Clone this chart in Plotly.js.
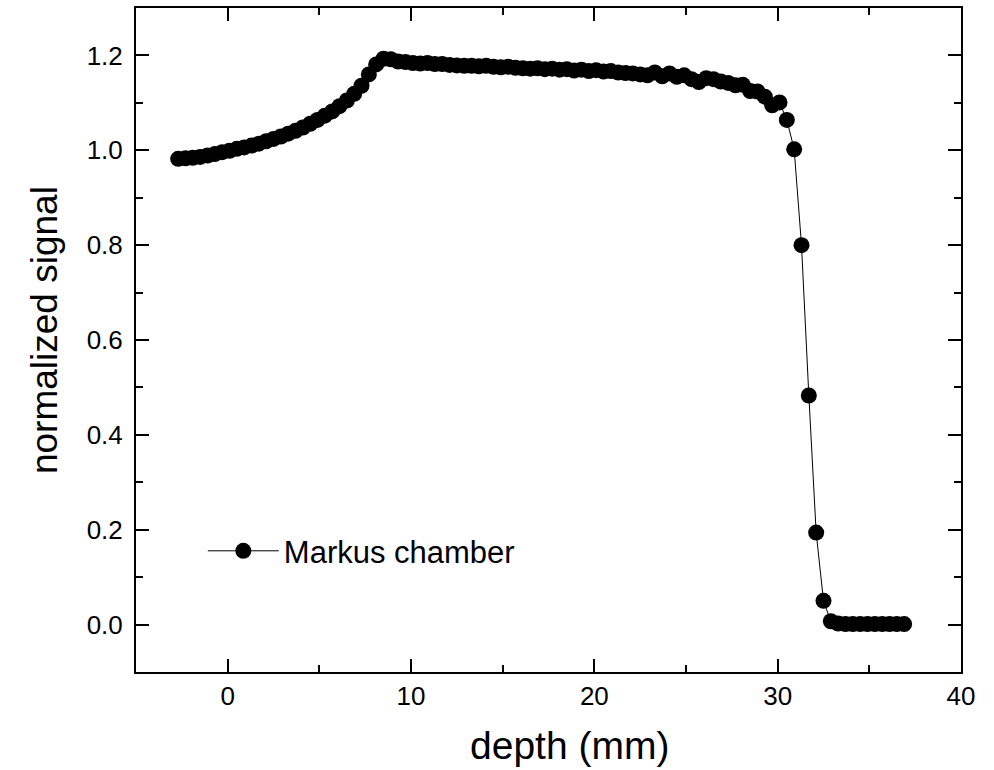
<!DOCTYPE html>
<html>
<head>
<meta charset="utf-8">
<script src="https://cdn.plot.ly/plotly-3.0.1.min.js"></script>
<style>html,body{margin:0;padding:0;background:#fff;}#chart{width:994px;height:770px;}</style>
</head>
<body>
<div id="chart"></div>
<script>
var depth = [-2.7,-2.3,-1.9,-1.5,-1.1,-0.7,-0.3,0.1,0.5,0.9,
  1.3,1.7,2.1,2.5,2.9,3.3,3.7,4.1,4.5,4.9,
  5.3,5.7,6.1,6.5,6.9,7.3,7.7,8.1,8.5,8.9,
  9.3,9.7,10.1,10.5,10.9,11.3,11.7,12.1,12.5,12.9,
  13.3,13.7,14.1,14.5,14.9,15.3,15.7,16.1,16.5,16.9,
  17.3,17.7,18.1,18.5,18.9,19.3,19.7,20.1,20.5,20.9,
  21.3,21.7,22.1,22.5,22.9,23.3,23.7,24.1,24.5,24.9,
  25.3,25.7,26.1,26.5,26.9,27.3,27.7,28.1,28.5,28.9,
  29.3,29.7,30.1,30.5,30.9,31.3,31.7,32.1,32.5,32.9,
  33.3,33.7,34.1,34.5,34.9,35.3,35.7,36.1,36.5,36.9];
var signal = [0.982,0.983,0.984,0.986,0.989,0.992,0.996,0.999,1.003,1.006,
  1.010,1.014,1.019,1.024,1.029,1.035,1.041,1.048,1.056,1.064,
  1.073,1.082,1.093,1.105,1.119,1.136,1.160,1.181,1.193,1.192,
  1.187,1.186,1.184,1.183,1.184,1.182,1.182,1.180,1.179,1.178,
  1.178,1.177,1.178,1.176,1.175,1.176,1.174,1.173,1.172,1.173,
  1.171,1.172,1.170,1.171,1.168,1.170,1.167,1.169,1.166,1.167,
  1.164,1.163,1.162,1.160,1.158,1.164,1.156,1.162,1.155,1.158,
  1.150,1.144,1.152,1.150,1.145,1.142,1.137,1.138,1.125,1.124,
  1.113,1.095,1.101,1.064,1.002,0.800,0.483,0.194,0.050,0.007,
  0.002,0.001,0.001,0.001,0.001,0.001,0.001,0.001,0.001,0.001];
var seriesName = "Markus chamber";
var xTitle = "depth (mm)";
var yTitle = "normalized signal";

var trace = {
  x: depth, y: signal, name: seriesName,
  type: "scatter", mode: "lines+markers",
  line: {color: "#000", width: 1},
  marker: {color: "#000", size: 16, symbol: "circle"}
};
var font = "Liberation Sans, Arial, sans-serif";
var layout = {
  width: 994, height: 770,
  margin: {l: 136, r: 33, t: 8, b: 98},
  paper_bgcolor: "#fff", plot_bgcolor: "#fff",
  font: {family: font, color: "#000"},
  showlegend: true,
  legend: {x: 0.081, y: 0.182, xanchor: "left", yanchor: "middle",
    font: {family: font, size: 31, color: "#000"}, bgcolor: "rgba(0,0,0,0)", itemwidth: 71},
  xaxis: {
    range: [-5, 40], dtick: 10, tick0: 0, showgrid: false, zeroline: false,
    showline: true, linecolor: "#000", linewidth: 2, mirror: "allticks",
    ticks: "inside", ticklen: 13, tickwidth: 2, tickcolor: "#000",
    minor: {dtick: 5, ticks: "inside", ticklen: 7, tickwidth: 2, tickcolor: "#000", showgrid: false},
    tickfont: {family: font, size: 26, color: "#000"}
  },
  yaxis: {
    range: [-0.1, 1.3], dtick: 0.2, tick0: 0, tickformat: ".1f", showgrid: false, zeroline: false,
    showline: true, linecolor: "#000", linewidth: 2, mirror: "allticks",
    ticks: "inside", ticklen: 13, tickwidth: 2, tickcolor: "#000",
    minor: {dtick: 0.1, ticks: "inside", ticklen: 7, tickwidth: 2, tickcolor: "#000", showgrid: false},
    tickfont: {family: font, size: 26, color: "#000"}, ticklabelstandoff: 6
  },
  annotations: [
    {text: xTitle, xref: "paper", yref: "paper", x: 0.526, y: -0.1114,
     xanchor: "center", yanchor: "middle", showarrow: false,
     font: {family: font, size: 39, color: "#000"}},
    {text: yTitle, xref: "paper", yref: "paper", x: -0.1115, y: 0.515, textangle: -90,
     xanchor: "center", yanchor: "middle", showarrow: false,
     font: {family: font, size: 37, color: "#000"}}
  ]
};
Plotly.newPlot("chart", [trace], layout, {displayModeBar: false, staticPlot: true});
</script>
</body>
</html>
